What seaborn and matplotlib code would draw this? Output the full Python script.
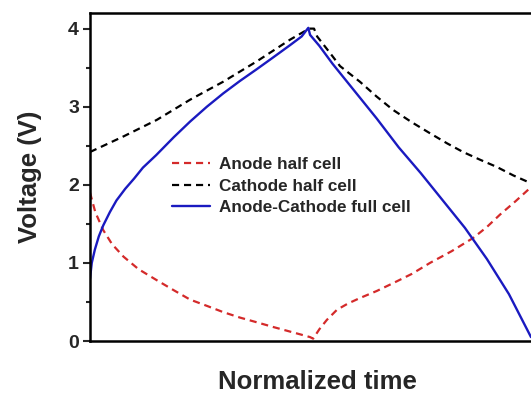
import matplotlib
matplotlib.use("Agg")
import matplotlib.pyplot as plt
from matplotlib.ticker import MultipleLocator
import seaborn as sns

# Charge/discharge profiles vs normalized time (0 -> 1)
anode_t = [0.0, 0.012, 0.03, 0.05, 0.076, 0.11, 0.151, 0.19, 0.227, 0.265, 0.302,
           0.34, 0.378, 0.415, 0.454, 0.48, 0.499, 0.506,
           0.52, 0.537, 0.56, 0.585, 0.612, 0.65, 0.687, 0.73, 0.771, 0.82,
           0.869, 0.9, 0.93, 0.965, 1.0]
anode_v = [1.90, 1.65, 1.42, 1.24, 1.08, 0.92, 0.78, 0.65, 0.53, 0.45, 0.37,
           0.30, 0.24, 0.18, 0.12, 0.08, 0.05, 0.03,
           0.15, 0.27, 0.40, 0.48, 0.55, 0.64, 0.74, 0.86, 1.00, 1.15,
           1.32, 1.46, 1.62, 1.79, 1.97]

cathode_t = [0.0, 0.076, 0.151, 0.227, 0.302, 0.378, 0.454, 0.497, 0.508,
             0.515, 0.544, 0.567, 0.612, 0.65, 0.687, 0.73, 0.771, 0.81,
             0.846, 0.885, 0.922, 0.96, 1.0]
cathode_v = [2.42, 2.62, 2.83, 3.09, 3.32, 3.58, 3.86, 4.00, 4.00,
             3.90, 3.69, 3.52, 3.32, 3.13, 2.96, 2.80, 2.66, 2.53,
             2.42, 2.32, 2.23, 2.12, 2.02]

full_t = [0.0, 0.004, 0.011, 0.02, 0.03, 0.045, 0.06, 0.08, 0.1, 0.12, 0.15,
          0.19, 0.227, 0.265, 0.302, 0.34, 0.378, 0.415, 0.454, 0.48, 0.495,
          0.499, 0.52, 0.55, 0.6, 0.65, 0.7, 0.75, 0.8, 0.85, 0.9, 0.95, 1.0]
full_v = [0.80, 1.00, 1.17, 1.34, 1.48, 1.65, 1.80, 1.95, 2.08, 2.22, 2.38,
          2.61, 2.81, 3.00, 3.17, 3.33, 3.48, 3.63, 3.79, 3.90, 4.01,
          3.92, 3.78, 3.55, 3.20, 2.85, 2.48, 2.15, 1.80, 1.45, 1.05, 0.60, 0.05]

series_labels = ["Anode half cell", "Cathode half cell", "Anode-Cathode full cell"]

sns.set_theme(style="ticks")
plt.rcParams["font.family"] = ["Liberation Sans", "DejaVu Sans"]
plt.rcParams["font.weight"] = "bold"

fig = plt.figure(figsize=(5.31, 3.94), dpi=100)
ax = fig.add_axes([0.1695, 0.1345, 0.8305, 0.8325])

dash = (0, (3.2, 2.2))
sns.lineplot(x=anode_t, y=anode_v, color="#d42a2a", linestyle=dash,
             linewidth=1.6, label=series_labels[0], sort=False, estimator=None, ax=ax)
sns.lineplot(x=cathode_t, y=cathode_v, color="black", linestyle=dash,
             linewidth=1.6, label=series_labels[1], sort=False, estimator=None, ax=ax)
sns.lineplot(x=full_t, y=full_v, color="#1a1ac0", linestyle="-",
             linewidth=1.7, label=series_labels[2], sort=False, estimator=None, ax=ax)

ax.set_xlim(0, 1)
ax.set_ylim(0, 4.2)
ax.set_xticks([])
ax.yaxis.set_major_locator(MultipleLocator(1))
ax.yaxis.set_minor_locator(MultipleLocator(0.5))
ax.tick_params(axis="y", which="major", direction="out", length=5, width=1.5,
               labelsize=14, pad=3)
ax.tick_params(axis="y", which="minor", direction="out", length=3, width=1.5)
for lbl in ax.get_yticklabels():
    lbl.set_fontweight("bold")

for side in ["left", "top", "bottom"]:
    ax.spines[side].set_linewidth(1.8)
    ax.spines[side].set_color("black")
ax.spines["right"].set_visible(False)

ax.set_xlabel("Normalized time", fontsize=18.5, fontweight="bold", labelpad=21, x=0.516)
ax.set_ylabel("Voltage (V)", fontsize=18.5, fontweight="bold", labelpad=19)

leg = ax.legend(loc="upper left", bbox_to_anchor=(0.186, 0.562), frameon=False,
                fontsize=12.3, handlelength=2.25, handletextpad=0.48,
                labelspacing=0.4, borderpad=0, borderaxespad=0)
for txt in leg.get_texts():
    txt.set_fontweight("bold")

fig.savefig("out.png", dpi=100)
